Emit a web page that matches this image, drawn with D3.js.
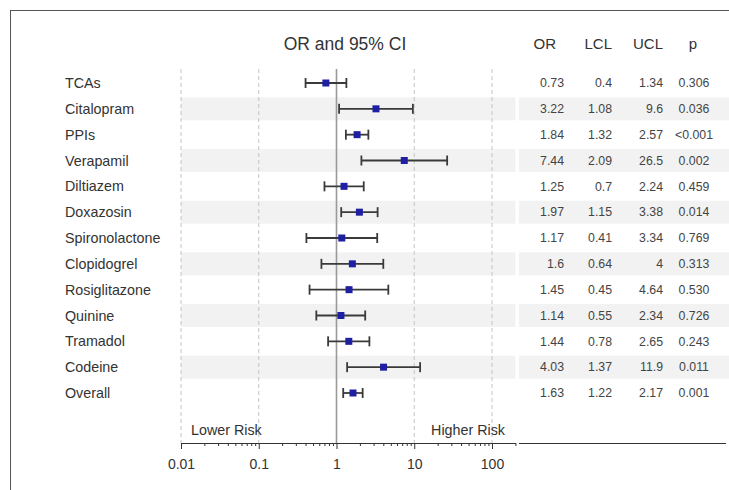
<!DOCTYPE html>
<html lang="en">
<head>
    <meta charset="UTF-8">
    <title>Forest plot</title>
    <script src="https://d3js.org/d3.v7.min.js"></script>
    <style>
        body { margin: 0; background: #fff; }
        svg { font-family: "Liberation Sans", Arial, sans-serif; }
        .lbl { fill: #333; font-size: 14.3px; }
        .val { fill: #444; font-size: 12.3px; }
        .hdr { fill: #333; font-size: 15px; }
        .grid { stroke: #c4c4c4; stroke-dasharray: 4,3; stroke-width: 1; }
        .band { fill: #f2f2f2; }
        .ci { stroke: #3a3a3a; stroke-width: 1.8; }
        .axis path, .axis line { stroke: #333; }
        .axis text { fill: #333; font-size: 14px; font-family: "Liberation Sans", Arial, sans-serif; }
    </style>
</head>
<body>
<script>
    const width = 729;
    const height = 490;

    const drugs = ["TCAs", "Citalopram", "PPIs", "Verapamil", "Diltiazem", "Doxazosin",
        "Spironolactone", "Clopidogrel", "Rosiglitazone", "Quinine", "Tramadol", "Codeine", "Overall"];
    const orVals  = [0.73, 3.22, 1.84, 7.44, 1.25, 1.97, 1.17, 1.6, 1.45, 1.14, 1.44, 4.03, 1.63];
    const lclVals = [0.4, 1.08, 1.32, 2.09, 0.7, 1.15, 0.41, 0.64, 0.45, 0.55, 0.78, 1.37, 1.22];
    const uclVals = [1.34, 9.6, 2.57, 26.5, 2.24, 3.38, 3.34, 4, 4.64, 2.34, 2.65, 11.9, 2.17];
    const pVals   = ["0.306", "0.036", "<0.001", "0.002", "0.459", "0.014", "0.769",
        "0.313", "0.530", "0.726", "0.243", "0.011", "0.001"];
    const majorTicks = [0.01, 0.1, 1, 10, 100];

    const rows = drugs.map((d, i) => ({
        name: d, or: orVals[i], lcl: lclVals[i], ucl: uclVals[i], p: pVals[i], i: i
    }));

    const svg = d3.select("body").append("svg")
        .attr("width", width).attr("height", height);

    // outer frame (runs off the right and bottom edge)
    svg.append("rect").attr("x", 10.5).attr("y", 10.5)
        .attr("width", 740).attr("height", 500)
        .attr("fill", "none").attr("stroke", "#555");

    const x = d3.scaleLog().domain([0.01, 200]).range([181, 515.4]);
    const y = d3.scalePoint().domain(drugs).range([83, 393]);
    const axisY = 443;
    const topY = 69;
    const bandH = 23;

    // shaded bands on alternating rows
    const shaded = rows.filter(d => d.i % 2 === 1);
    svg.selectAll("rect.band-plot").data(shaded).enter()
        .append("rect").attr("class", "band")
        .attr("x", x(0.01)).attr("width", x(200) - x(0.01))
        .attr("y", d => y(d.name) - bandH / 2).attr("height", bandH);
    svg.selectAll("rect.band-tab").data(shaded).enter()
        .append("rect").attr("class", "band")
        .attr("x", 519).attr("width", width - 519)
        .attr("y", d => y(d.name) - bandH / 2).attr("height", bandH);

    // dashed gridlines
    svg.selectAll("line.grid").data(majorTicks.filter(t => t !== 1)).enter()
        .append("line").attr("class", "grid")
        .attr("x1", d => x(d)).attr("x2", d => x(d))
        .attr("y1", topY).attr("y2", axisY);

    // reference line at 1
    svg.append("line")
        .attr("x1", x(1)).attr("x2", x(1))
        .attr("y1", topY).attr("y2", axisY)
        .attr("stroke", "#9a9a9a").attr("stroke-width", 1.6);

    // title and headers
    svg.append("text").attr("class", "lbl").attr("x", 345).attr("y", 50)
        .attr("text-anchor", "middle").style("font-size", "17.5px").text("OR and 95% CI");
    const headers = [["OR", 556, "end"], ["LCL", 612, "end"], ["UCL", 663, "end"], ["p", 693, "middle"]];
    headers.forEach(h => {
        svg.append("text").attr("class", "hdr").attr("x", h[1]).attr("y", 49)
            .attr("text-anchor", h[2]).text(h[0]);
    });

    // row labels
    svg.selectAll("text.name").data(rows).enter()
        .append("text").attr("class", "lbl")
        .attr("x", 65).attr("y", d => y(d.name)).attr("dy", "0.35em")
        .text(d => d.name);

    // confidence intervals
    const ci = svg.selectAll("g.ci").data(rows).enter()
        .append("g").attr("transform", d => `translate(0,${y(d.name)})`);
    ci.append("line").attr("class", "ci")
        .attr("x1", d => x(d.lcl)).attr("x2", d => x(d.ucl));
    ci.append("line").attr("class", "ci")
        .attr("x1", d => x(d.lcl)).attr("x2", d => x(d.lcl)).attr("y1", -5).attr("y2", 5);
    ci.append("line").attr("class", "ci")
        .attr("x1", d => x(d.ucl)).attr("x2", d => x(d.ucl)).attr("y1", -5).attr("y2", 5);
    ci.append("rect")
        .attr("x", d => x(d.or) - 3.5).attr("y", -3.5)
        .attr("width", 7).attr("height", 7)
        .attr("fill", "#1f1fa3");

    // table values
    const cols = [["or", 564, "end"], ["lcl", 612, "end"], ["ucl", 663, "end"], ["p", 694, "middle"]];
    cols.forEach(c => {
        svg.selectAll("text.v-" + c[0]).data(rows).enter()
            .append("text").attr("class", "val")
            .attr("x", c[1]).attr("y", d => y(d.name)).attr("dy", "0.35em")
            .attr("text-anchor", c[2]).text(d => d[c[0]]);
    });

    // risk labels
    svg.append("text").attr("class", "lbl").attr("x", 191).attr("y", 435)
        .text("Lower Risk");
    svg.append("text").attr("class", "lbl").attr("x", 505).attr("y", 435)
        .attr("text-anchor", "end").text("Higher Risk");

    // axis with minor ticks
    const minorTicks = [];
    [0.01, 0.1, 1, 10, 100].forEach(b => {
        for (let k = 2; k <= 9; k++) {
            if (b * k <= 200) minorTicks.push(b * k);
        }
    });
    svg.append("g").attr("class", "axis")
        .attr("transform", `translate(0,${axisY})`)
        .call(d3.axisBottom(x).tickValues(minorTicks).tickSize(3).tickSizeOuter(0).tickFormat(""));
    svg.append("g").attr("class", "axis")
        .attr("transform", `translate(0,${axisY})`)
        .call(d3.axisBottom(x).tickValues(majorTicks).tickSize(6).tickSizeOuter(0)
            .tickPadding(10).tickFormat(d => String(d)))
        .select(".domain").remove();

    // table underline
    svg.append("line").attr("x1", 519).attr("x2", 726)
        .attr("y1", axisY + 0.5).attr("y2", axisY + 0.5)
        .attr("stroke", "#333");
</script>
</body>
</html>
